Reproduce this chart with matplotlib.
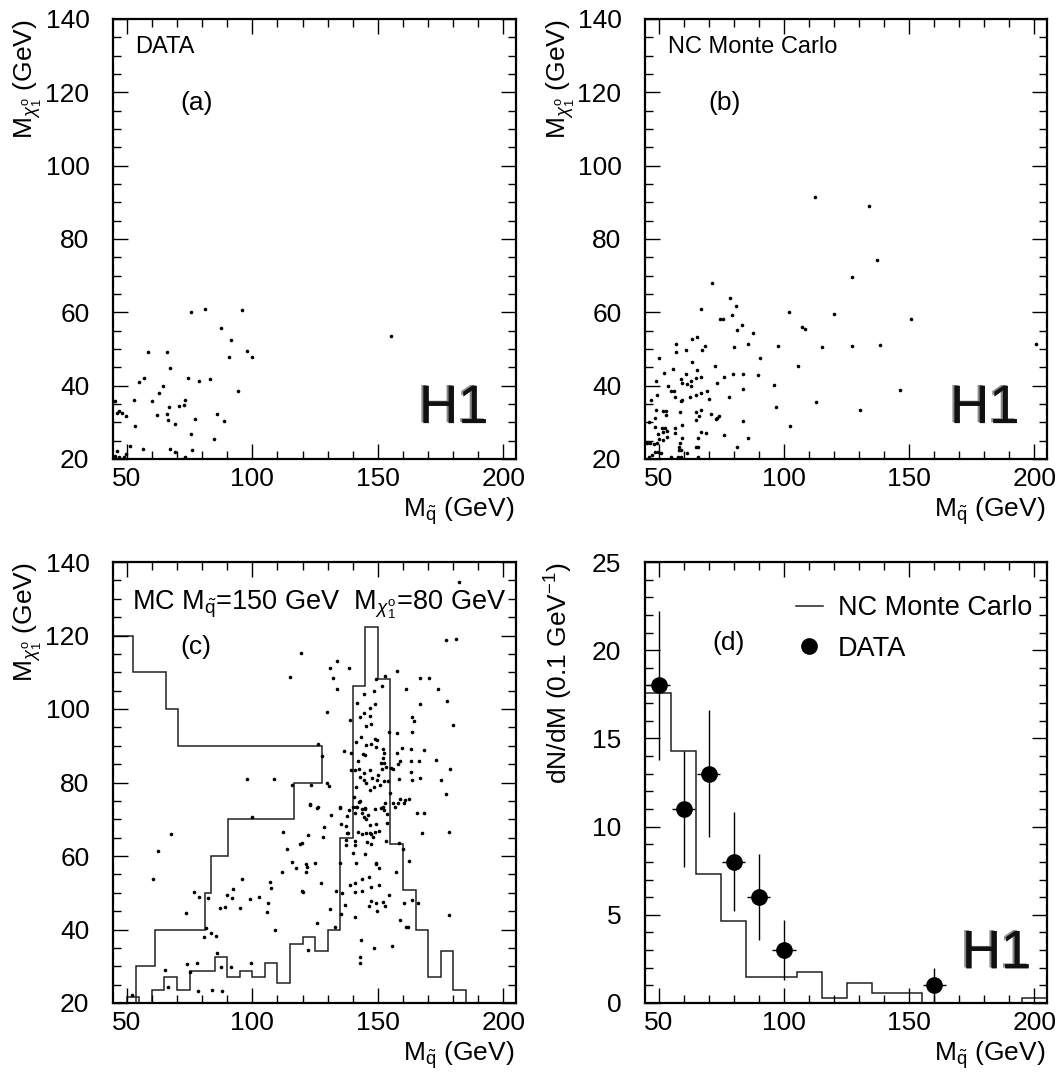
import matplotlib
matplotlib.use("Agg")
import matplotlib.pyplot as plt
import matplotlib.patheffects as pe
from matplotlib.ticker import MultipleLocator
from matplotlib.lines import Line2D
import numpy as np

plt.rcParams['font.family'] = ['Liberation Sans', 'DejaVu Sans']
plt.rcParams['mathtext.fontset'] = 'custom'
plt.rcParams['mathtext.rm'] = 'Liberation Sans'
plt.rcParams['mathtext.it'] = 'Liberation Sans:italic'
plt.rcParams['mathtext.bf'] = 'Liberation Sans:bold'

# ---------------- data ----------------
# panel (a): DATA scatter (M_squark, M_chi)
a_pts = [(75.7, 60.0), (81.2, 61.0), (96.0, 60.6), (87.4, 55.8), (91.4, 52.5), (155.2, 53.5),
         (58.5, 49.2), (66.2, 49.3), (97.9, 49.5), (100.0, 47.9), (90.6, 47.8), (67.3, 44.7),
         (54.8, 41.1), (56.9, 42.2), (74.3, 42.1), (78.6, 41.3), (83.0, 41.7), (64.6, 39.8),
         (63.0, 38.0), (94.4, 38.6), (45.2, 35.7), (52.7, 36.0), (60.1, 35.7), (73.1, 36.0),
         (46.0, 32.6), (46.9, 33.2), (47.9, 32.6), (49.6, 31.7), (62.0, 32.0), (66.1, 32.4),
         (67.0, 34.2), (70.6, 34.4), (72.7, 34.6), (66.4, 30.6), (77.0, 31.0), (85.8, 32.3),
         (88.7, 30.5), (53.1, 29.1), (69.3, 29.5), (75.4, 26.7), (84.8, 25.4), (51.3, 23.5),
         (56.5, 22.6), (67.2, 22.7), (69.3, 21.9), (75.9, 22.4), (73.0, 20.5), (46.1, 22.3),
         (45.2, 20.8), (46.9, 20.6), (48.8, 20.6), (49.5, 21.4)]

# panel (b): NC Monte Carlo scatter
b_pts = [(112.2, 91.4), (133.9, 89.0), (137.1, 74.3), (127.0, 69.6), (71.1, 68.0), (78.6, 64.0),
         (81.0, 61.6), (67.0, 60.9), (79.4, 59.3), (74.6, 58.2), (75.8, 58.2), (102.0, 60.0),
         (119.8, 59.5), (150.8, 58.3), (107.2, 56.1), (108.2, 55.5), (83.4, 56.5), (81.1, 55.3),
         (87.6, 54.5), (63.2, 52.7), (65.2, 53.3), (57.0, 51.5), (56.8, 49.2), (67.2, 49.8),
         (68.6, 50.8), (60.8, 49.8), (80.2, 50.5), (85.8, 51.5), (97.5, 50.9), (115.0, 50.5),
         (127.1, 50.8), (138.4, 51.2), (200.5, 51.4), (50.0, 47.5), (63.3, 46.4), (72.5, 45.5),
         (90.3, 47.5), (105.5, 45.5), (52.0, 43.5), (55.6, 44.6), (65.3, 44.3), (60.8, 43.2),
         (59.0, 41.9), (62.8, 41.4), (64.8, 42.0), (67.0, 42.3), (79.7, 43.3), (83.7, 43.2),
         (89.8, 43.0), (76.1, 42.4), (73.1, 40.7), (48.9, 41.2), (53.5, 40.0), (59.2, 40.7),
         (61.4, 40.4), (62.8, 39.9), (96.0, 40.1), (54.7, 38.6), (56.1, 38.6), (62.5, 36.9),
         (64.7, 37.5), (67.0, 38.1), (69.4, 38.5), (70.2, 36.4), (56.4, 36.9), (59.3, 36.2),
         (59.0, 35.9), (46.9, 36.2), (49.1, 37.4), (83.6, 39.1), (77.9, 36.8), (146.5, 38.7),
         (96.7, 34.1), (112.8, 35.6), (130.5, 33.5), (51.5, 33.0), (53.0, 33.2), (52.8, 32.0),
         (58.4, 32.7), (64.8, 32.8), (67.0, 33.4), (66.2, 31.8), (64.9, 30.6), (48.8, 33.3),
         (48.4, 31.1), (70.8, 32.3), (73.3, 31.1), (73.9, 31.8), (73.0, 31.0), (83.7, 30.5),
         (102.5, 28.9), (45.9, 30.1), (48.3, 28.7), (51.4, 28.4), (52.4, 28.5), (51.6, 27.5),
         (53.3, 27.7), (56.4, 28.5), (56.4, 27.1), (59.2, 29.2), (49.5, 26.7), (53.1, 25.9),
         (51.5, 25.2), (59.2, 25.6), (66.9, 27.3), (68.8, 27.0), (65.6, 25.6), (76.2, 26.5),
         (85.6, 25.7), (45.3, 24.3), (46.6, 24.3), (47.9, 24.1), (49.1, 24.5), (50.1, 25.4),
         (58.4, 24.5), (64.8, 23.2), (65.7, 23.2), (58.1, 23.2), (59.0, 22.5), (58.0, 22.4),
         (81.2, 23.3), (48.5, 21.8), (49.7, 21.8), (50.7, 21.7), (61.3, 21.6), (46.0, 20.5),
         (47.2, 21.0), (54.7, 20.5), (57.6, 20.6), (59.0, 20.6), (65.7, 20.5)]

# panel (c): signal MC scatter
c_pts = [(182.2, 134.5), (177.1, 118.8), (181.1, 119.1), (119.4, 115.2), (115.0, 108.6), (131.0, 111.1),
         (133.6, 113.1), (132.0, 108.3), (138.3, 111.2), (133.6, 105.4), (157.6, 110.4), (166.9, 108.3),
         (170.2, 108.3), (161.3, 105.5), (173.9, 105.5), (149.3, 108.2), (152.7, 108.9), (151.6, 106.3),
         (144.4, 104.2), (148.3, 104.9), (141.5, 101.5), (146.7, 100.2), (148.7, 101.3), (129.7, 99.2),
         (144.6, 99.0), (166.9, 101.4), (177.5, 102.1), (139.0, 97.0), (142.7, 97.7), (146.9, 98.1),
         (145.2, 95.4), (147.1, 95.9), (163.4, 97.7), (164.2, 96.6), (179.8, 95.7), (163.7, 93.7),
         (154.4, 93.7), (157.6, 93.4), (143.4, 92.5), (141.2, 90.9), (148.7, 91.8), (149.6, 91.6),
         (126.3, 90.4), (145.3, 90.1), (147.2, 90.4), (149.1, 89.6), (127.7, 87.2), (136.6, 88.7),
         (139.4, 88.0), (143.9, 87.7), (144.7, 87.6), (151.9, 89.0), (152.5, 87.9), (159.6, 89.3),
         (163.0, 89.1), (168.2, 88.8), (151.9, 86.6), (158.9, 85.9), (163.0, 85.9), (166.2, 85.9),
         (173.3, 86.1), (157.7, 87.9), (142.0, 85.9), (151.3, 85.2), (152.5, 85.4), (153.3, 84.3),
         (151.6, 83.8), (155.2, 83.9), (156.0, 83.7), (139.2, 83.3), (140.7, 83.3), (142.6, 83.6),
         (144.3, 82.5), (146.7, 83.4), (149.9, 82.0), (163.0, 82.8), (178.9, 83.6), (158.1, 85.0),
         (97.7, 81.0), (108.5, 80.9), (123.3, 79.3), (129.9, 80.0), (130.7, 79.1), (142.7, 81.4),
         (144.3, 80.7), (145.3, 79.8), (147.6, 81.1), (149.6, 80.7), (152.3, 80.3), (153.9, 80.5),
         (158.4, 80.9), (163.6, 80.7), (166.9, 81.1), (175.1, 80.8), (141.2, 78.9), (146.9, 78.0),
         (148.3, 78.9), (150.7, 79.2), (115.8, 79.2), (177.1, 76.8), (123.0, 74.1), (126.3, 73.4),
         (135.0, 73.1), (140.3, 76.1), (142.9, 75.1), (144.9, 73.0), (148.7, 72.8), (151.9, 73.2),
         (156.2, 74.3), (158.9, 75.4), (162.2, 75.4), (154.7, 77.1), (152.9, 74.3), (141.1, 73.3),
         (100.0, 70.5), (67.6, 66.1), (62.6, 61.3), (60.5, 53.7), (76.7, 50.2), (78.9, 48.9),
         (73.4, 44.4), (112.4, 66.4), (113.7, 61.9), (115.8, 58.3), (118.8, 63.4), (119.7, 63.6),
         (117.3, 56.7), (121.3, 57.8), (121.4, 55.7), (121.9, 56.9), (122.3, 65.7), (125.0, 58.0),
         (128.1, 65.3), (128.5, 68.0), (127.3, 52.7), (131.5, 71.2), (119.7, 50.4), (120.0, 50.3),
         (135.0, 73.2), (135.2, 68.7), (135.0, 58.1), (137.6, 71.0), (137.1, 68.2), (137.6, 66.2),
         (137.9, 66.3), (137.4, 63.0), (137.3, 64.4), (138.6, 72.5), (140.0, 73.4), (141.6, 73.2),
         (141.0, 71.8), (142.6, 74.8), (143.5, 72.8), (143.6, 71.8), (144.9, 72.9), (144.3, 70.5),
         (145.2, 70.2), (145.9, 71.2), (145.2, 66.3), (146.7, 66.3), (147.2, 66.0), (148.9, 66.5),
         (148.0, 65.1), (146.7, 68.4), (149.3, 68.7), (150.3, 66.8), (151.2, 73.0), (152.3, 72.5),
         (153.6, 71.4), (153.6, 69.1), (143.6, 66.0), (141.9, 66.6), (141.0, 64.1), (141.0, 63.0),
         (145.6, 63.9), (147.3, 63.4), (153.3, 64.2), (140.2, 60.7), (141.2, 58.0), (144.7, 60.5),
         (149.1, 58.0), (150.5, 56.6), (149.2, 57.8), (146.5, 54.4), (150.3, 52.1), (147.3, 51.7),
         (143.5, 53.7), (141.0, 52.7), (138.8, 52.1), (141.0, 50.2), (143.6, 50.6), (135.6, 49.8),
         (133.4, 50.6), (137.0, 46.7), (135.4, 44.1), (141.0, 43.3), (147.2, 47.8), (152.0, 47.6),
         (149.3, 47.1), (153.0, 46.4), (154.3, 49.4), (146.3, 46.4), (149.6, 44.9), (131.1, 45.5),
         (133.1, 40.8), (125.9, 41.7), (157.1, 55.7), (158.6, 63.6), (160.1, 61.8), (162.2, 58.7),
         (160.2, 47.3), (163.6, 48.0), (166.0, 47.3), (158.9, 42.6), (161.3, 40.6), (161.8, 40.6),
         (165.6, 71.8), (168.2, 71.6), (167.6, 66.2), (178.2, 66.4), (178.2, 43.9), (156.9, 73.4),
         (158.2, 74.3), (160.2, 74.3), (160.9, 75.2), (155.6, 35.6), (148.3, 35.1), (143.2, 37.1),
         (143.0, 32.4), (143.0, 31.0), (122.2, 34.5), (109.0, 39.9), (106.2, 47.1), (105.7, 44.7),
         (107.2, 53.0), (107.4, 51.2), (111.7, 55.7), (102.7, 48.9), (99.1, 48.3), (95.1, 45.8),
         (95.7, 53.8), (92.4, 50.9), (89.9, 49.3), (91.8, 48.7), (89.1, 46.1), (87.1, 45.8),
         (82.4, 48.7), (81.5, 40.3), (80.6, 37.9), (83.6, 39.0), (85.6, 38.1), (85.8, 33.7),
         (87.6, 29.9), (91.5, 29.9), (99.5, 31.0), (73.8, 30.5), (77.8, 30.8), (75.3, 28.4),
         (65.2, 29.0), (66.5, 24.4), (78.3, 23.3), (84.0, 23.5), (87.8, 23.2), (52.1, 22.3),
         (125.9, 73.1), (123.1, 73.9)]

# panel (c): projection on M_squark (5 GeV bins, drawn in y-axis units)
c_sq_edges = [50, 55, 60, 65, 70, 75, 80, 85, 90, 95, 100, 105, 110, 115, 120, 125, 130,
              135, 140, 145, 150, 155, 160, 165, 170, 175, 180, 185]
c_sq_vals = [21.7, 20.0, 23.5, 27.2, 23.5, 28.8, 28.8, 32.6, 27.2, 28.8, 27.2, 30.8, 25.4,
             36.0, 37.9, 34.2, 39.9, 64.8, 106.3, 122.4, 108.2, 63.3, 50.7, 39.9, 27.2, 34.2, 23.5]
# panel (c): projection on M_chi (10 GeV bins, drawn in x-axis units)
c_chi_edges = [20, 30, 40, 50, 60, 70, 80, 90, 100, 110, 120]
c_chi_vals = [53.6, 61.3, 81.2, 83.4, 90.2, 116.4, 127.7, 70.2, 65.8, 52.5]

# panel (d): dN/dM
d_mc_edges = [45, 55, 65, 75, 85, 95, 105, 115, 125, 135, 145, 155, 165, 175, 185, 195, 205]
d_mc_vals = [17.55, 14.3, 7.31, 4.67, 1.46, 1.46, 1.74, 0.26, 1.15, 0.55, 0.55, 0, 0, 0, 0, 0.26]
d_data_x = [50, 60, 70, 80, 90, 100, 160]
d_data_y = [18, 11, 13, 8, 6, 3, 1]
d_data_yerr = [4.24, 3.3, 3.6, 2.8, 2.45, 1.7, 1.0]
d_data_xerr = [4.6, 4.6, 4.6, 4.6, 4.6, 4.6, 4.6]

xlabel = r'$\mathrm{M}_{\tilde{\mathrm{q}}}$ (GeV)'
ylabel = r'$\mathrm{M}_{\chi^{\mathrm{o}}_{1}}$ (GeV)'

# ---------------- figure ----------------
W, H = 1062, 1073
fig = plt.figure(figsize=(W / 100, H / 100), dpi=100)


def rect(l, t, r, b):
    return [l / W, 1 - b / H, (r - l) / W, (b - t) / H]


axa = fig.add_axes(rect(113, 19, 516, 459))
axb = fig.add_axes(rect(645, 19, 1047, 459))
axc = fig.add_axes(rect(113, 562, 516, 1003))
axd = fig.add_axes(rect(645, 562, 1047, 1003))

TICK_FS = 19
for ax in (axa, axb, axc, axd):
    ax.set_xlim(44.5, 205)
    ax.xaxis.set_major_locator(MultipleLocator(50))
    ax.xaxis.set_minor_locator(MultipleLocator(10))
    ax.tick_params(which='both', direction='in', top=True, right=True, width=1.0)
    ax.tick_params(which='major', length=11)
    ax.tick_params(which='minor', length=5.5)
    ax.tick_params(axis='x', which='major', pad=6, labelsize=TICK_FS)
    ax.tick_params(axis='y', which='major', pad=17, labelsize=TICK_FS)
    for s in ax.spines.values():
        s.set_linewidth(1.6)
    ax.set_xlabel(xlabel, fontsize=TICK_FS, loc='right')
    ax.xaxis.set_label_coords(0.995, -0.083)

for ax in (axa, axb, axc):
    ax.set_ylim(20, 140)
    ax.yaxis.set_major_locator(MultipleLocator(20))
    ax.yaxis.set_minor_locator(MultipleLocator(5))
    ax.set_ylabel(ylabel, fontsize=TICK_FS, loc='top')
    ax.yaxis.set_label_coords(-0.17, 1.0)

axd.set_ylim(0, 25)
axd.yaxis.set_major_locator(MultipleLocator(5))
axd.yaxis.set_minor_locator(MultipleLocator(1))
axd.set_ylabel(r'dN/dM (0.1 GeV$^{-1}$)', fontsize=TICK_FS, loc='top')
axd.yaxis.set_label_coords(-0.175, 1.0)

MS = 2.6
ax_pts = [(axa, a_pts), (axb, b_pts), (axc, c_pts)]
for ax, pts in ax_pts:
    xs = [p[0] for p in pts]
    ys = [p[1] for p in pts]
    ax.plot(xs, ys, 'o', ms=MS, color='black', mec='none', clip_on=True)

# histograms in (c)
axc.stairs(c_sq_vals, c_sq_edges, baseline=20, color='#222222', lw=1.1)
axc.stairs(c_chi_vals, c_chi_edges, baseline=44.5, orientation='horizontal',
           color='#222222', lw=1.1)

# (d)
axd.stairs(d_mc_vals, d_mc_edges, baseline=None, color='#222222', lw=1.1,
           label='NC Monte Carlo')
axd.errorbar(d_data_x, d_data_y, yerr=d_data_yerr, xerr=d_data_xerr, fmt='o',
             ms=11, color='black', ecolor='black', elinewidth=1.0, capsize=0,
             label='DATA')
handles = [Line2D([], [], color='#222222', lw=1.1),
           Line2D([], [], marker='o', ls='none', ms=11, color='black')]
axd.legend(handles, ['NC Monte Carlo', 'DATA'], loc='upper left',
           bbox_to_anchor=(0.375, 0.925), frameon=False, fontsize=19.5,
           handlelength=1.0, handletextpad=0.55, labelspacing=0.55,
           borderpad=0, borderaxespad=0)

# text annotations
TXT_FS = 17
axa.text(53.2, 132.4, 'DATA', fontsize=TXT_FS, ha='left', va='center')
axa.text(77.9, 117.1, '(a)', fontsize=19, ha='center', va='center')
axb.text(53.6, 132.4, 'NC Monte Carlo', fontsize=TXT_FS, ha='left', va='center')
axb.text(76.3, 117.1, '(b)', fontsize=19, ha='center', va='center')
axc.text(52.0, 128.3,
         r'MC $\mathrm{M}_{\tilde{\mathrm{q}}}$=150 GeV  $\mathrm{M}_{\chi^{\mathrm{o}}_{1}}$=80 GeV',
         fontsize=19.5, ha='left', va='center')
axc.text(77.5, 116.9, '(c)', fontsize=19, ha='center', va='center')
axd.text(77.7, 20.4, '(d)', fontsize=19, ha='center', va='center')

h1_fx = [pe.withSimplePatchShadow(offset=(-1.6, 0.6), shadow_rgbFace='#8a8a8a', alpha=1.0),
         pe.Normal()]
for ax, x, y in ((axa, 194, 29.8), (axb, 194, 29.8), (axd, 198.7, 1.97)):
    ax.text(x, y, 'H1', fontsize=39, ha='right', va='baseline',
            family=['Liberation Sans'], fontweight='normal',
            color='#111111', path_effects=h1_fx)

fig.savefig('out.png', dpi=100)
